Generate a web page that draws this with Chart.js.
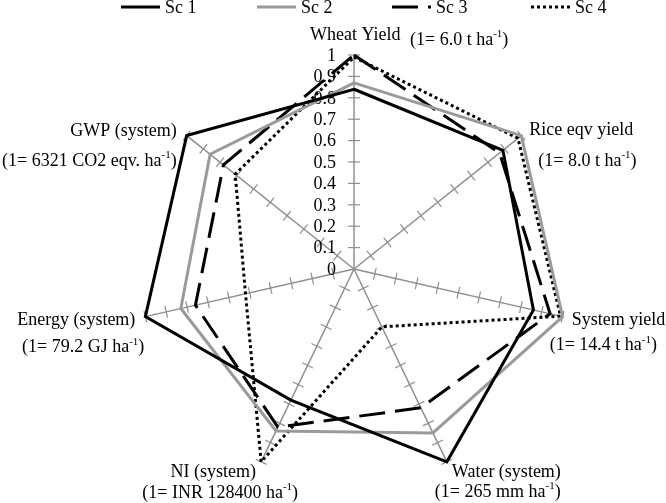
<!DOCTYPE html>
<html>
<head>
<meta charset="utf-8">
<script src="https://cdn.jsdelivr.net/npm/chart.js@4.4.0/dist/chart.umd.min.js"></script>
<style>
  html, body { margin: 0; padding: 0; background: #fff; }
</style>
</head>
<body>
<canvas id="radar" width="666" height="503"></canvas>
<script>
// axes of the radar (value 1 = the unit shown under each name)
var categories = ["Wheat Yield", "Rice eqv yield", "System yield", "Water (system)", "NI (system)", "Energy (system)", "GWP (system)"];
var unitNotes = ["(1= 6.0 t ha⁻¹)", "(1= 8.0 t ha⁻¹)", "(1= 14.4 t ha⁻¹)", "(1= 265 mm ha⁻¹)", "(1= INR 128400 ha⁻¹)", "(1= 79.2 GJ ha⁻¹)", "(1= 6321 CO2 eqv. ha⁻¹)"];
var seriesNames = ["Sc 1", "Sc 2", "Sc 3", "Sc 4"];
var sc1 = [0.84, 0.89, 0.86, 1.00, 0.68, 1.00, 1.00];
var sc2 = [0.87, 1.00, 1.00, 0.85, 0.84, 0.83, 0.86];
var sc3 = [1.00, 0.87, 0.94, 0.72, 0.82, 0.76, 0.78];
var sc4 = [0.99, 0.98, 0.99, 0.30, 1.00, 0.52, 0.71];
var tickLabels = ["0", "0.1", "0.2", "0.3", "0.4", "0.5", "0.6", "0.7", "0.8", "0.9", "1"];

var FONT = "Liberation Serif";
var AXIS_GREY = "#8f8f8f";

// where each axis name sits, relative to the axis end (dx, dy, align) for line 1 and line 2
var labelPlace = [
  [-44, -20, "left", 56, -15, "left"],
  [8, -5, "left", 17, 26, "left"],
  [9, 4, "left", -13, 29, "left"],
  [5, 10, "left", -12, 30, "left"],
  [-48, 10, "center", -41, 31, "center"],
  [-10, 4, "right", -1, 31, "right"],
  [-10, -4, "right", -10, 26, "right"]
];
var legendX = [121, 257, 392, 531];

// draws text where ⁻¹ is written as a raised smaller "-1"
function drawRich(ctx, text, x, y, align) {
  var parts = [];
  var buf = "", sup = false;
  for (var k = 0; k < text.length; k++) {
    var ch = text[k];
    var isSup = (ch === "⁻" || ch === "¹");
    var plain = ch === "⁻" ? "-" : (ch === "¹" ? "1" : ch);
    if (isSup !== sup && buf) { parts.push({t: buf, s: sup}); buf = ""; }
    sup = isSup;
    buf += plain;
  }
  if (buf) parts.push({t: buf, s: sup});
  var total = 0;
  parts.forEach(function(p) {
    ctx.font = (p.s ? "11px " : "18px ") + FONT;
    p.w = ctx.measureText(p.t).width;
    total += p.w;
  });
  var cx = x;
  if (align === "center") cx = x - total / 2;
  if (align === "right") cx = x - total;
  ctx.textAlign = "left";
  ctx.textBaseline = "middle";
  parts.forEach(function(p) {
    ctx.font = (p.s ? "11px " : "18px ") + FONT;
    ctx.fillText(p.t, cx, p.s ? y - 6 : y);
    cx += p.w;
  });
}

var radarDecor = {
  id: "radarDecor",
  beforeDatasetsDraw: function(chart) {
    var ctx = chart.ctx;
    var scale = chart.scales.r;
    ctx.save();
    // little cross ticks on every axis
    ctx.strokeStyle = AXIS_GREY;
    ctx.lineWidth = 1.2;
    for (var i = 0; i < categories.length; i++) {
      var a = scale.getIndexAngle(i) - Math.PI / 2;
      var px = -Math.sin(a), py = Math.cos(a);
      for (var v = 1; v <= 10; v++) {
        var p = scale.getPointPositionForValue(i, v / 10);
        ctx.beginPath();
        ctx.moveTo(p.x - 6 * px, p.y - 6 * py);
        ctx.lineTo(p.x + 6 * px, p.y + 6 * py);
        ctx.stroke();
      }
    }
    // value labels along the first axis
    ctx.fillStyle = "#000";
    ctx.font = "18px " + FONT;
    ctx.textAlign = "right";
    ctx.textBaseline = "middle";
    for (var t = 0; t < tickLabels.length; t++) {
      var d = scale.getDistanceFromCenterForValue(t / 10);
      ctx.fillText(tickLabels[t], scale.xCenter - 18, scale.yCenter - d + 1);
    }
    ctx.restore();
  },
  afterDraw: function(chart) {
    var ctx = chart.ctx;
    var scale = chart.scales.r;
    ctx.save();
    ctx.fillStyle = "#000";
    for (var i = 0; i < categories.length; i++) {
      var end = scale.getPointPositionForValue(i, 1);
      var lp = labelPlace[i];
      drawRich(ctx, categories[i], end.x + lp[0], end.y + lp[1], lp[2]);
      drawRich(ctx, unitNotes[i], end.x + lp[3], end.y + lp[4], lp[5]);
    }
    // legend
    chart.data.datasets.forEach(function(ds, j) {
      var x = legendX[j];
      ctx.strokeStyle = ds.borderColor;
      ctx.lineWidth = ds.borderWidth;
      ctx.setLineDash(ds.borderDash || []);
      ctx.beginPath();
      ctx.moveTo(x, 7);
      ctx.lineTo(x + 39, 7);
      ctx.stroke();
      ctx.setLineDash([]);
      ctx.fillStyle = "#000";
      ctx.font = "18px " + FONT;
      ctx.textAlign = "left";
      ctx.textBaseline = "middle";
      ctx.fillText(ds.label, x + 44, 8);
    });
    ctx.restore();
  }
};

function series(name, values, color, dash) {
  return {
    label: name,
    data: values,
    borderColor: color,
    borderWidth: 3,
    borderDash: dash,
    fill: false,
    pointRadius: 0,
    pointHoverRadius: 0,
    tension: 0
  };
}

new Chart(document.getElementById("radar"), {
  type: "radar",
  data: {
    labels: categories,
    datasets: [
      series(seriesNames[0], sc1, "#000000", []),
      series(seriesNames[1], sc2, "#9a9a9a", []),
      series(seriesNames[2], sc3, "#000000", [26, 10]),
      series(seriesNames[3], sc4, "#000000", [3, 3])
    ]
  },
  options: {
    responsive: false,
    animation: false,
    layout: { padding: { top: 55, bottom: 20, left: 42, right: 0 } },
    plugins: {
      legend: { display: false },
      tooltip: { enabled: false }
    },
    scales: {
      r: {
        min: 0,
        max: 1,
        ticks: { display: false, stepSize: 0.1 },
        grid: { display: false },
        angleLines: { display: true, color: AXIS_GREY, lineWidth: 1.5 },
        pointLabels: { display: false }
      }
    }
  },
  plugins: [radarDecor]
});
</script>
</body>
</html>
